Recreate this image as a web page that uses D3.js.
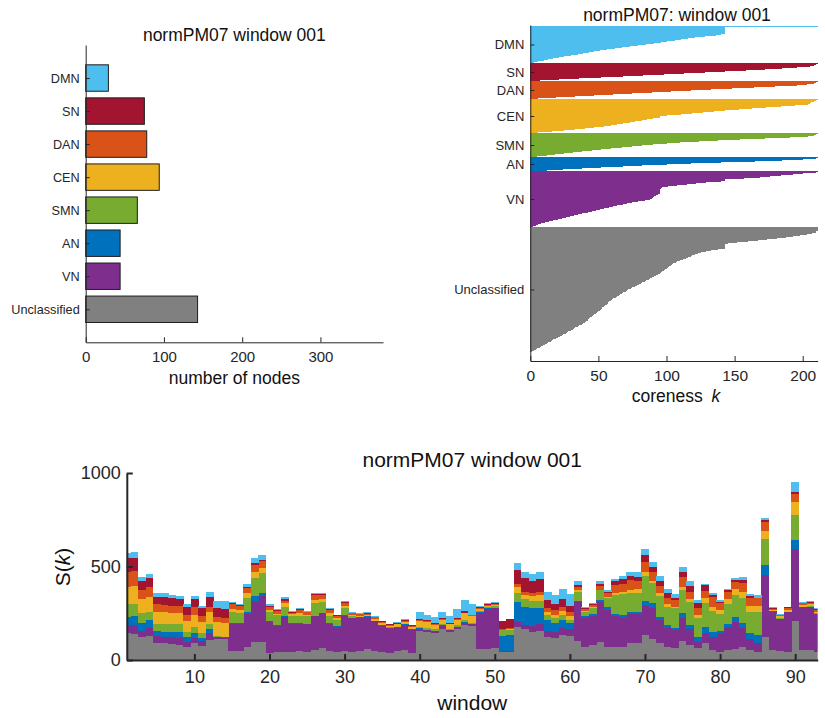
<!DOCTYPE html>
<html>
<head>
<meta charset="utf-8">
<script src="https://cdn.jsdelivr.net/npm/d3@7"></script>
<style>
  html, body { margin: 0; padding: 0; background: #fff; }
  svg { display: block; font-family: "Liberation Sans", Arial, Helvetica, sans-serif; }
</style>
</head>
<body>
<svg id="fig" width="825" height="718"></svg>
<script>
// ---------------- data ----------------
const networks = ["DMN", "SN", "DAN", "CEN", "SMN", "AN", "VN", "Unclassified"];
const colors   = ["#4DBEEE", "#A2142F", "#D95319", "#EDB120", "#77AC30", "#0072BD", "#7E2F8E", "#808080"];

// nodes per network in window 001
const nodeCounts = [29, 75, 78, 94, 66, 44, 44, 143];
const countTicks = [0, 100, 200, 300];

// coreness k of every node, sorted within each network (window 001)
const coreDMN = [211,143,143,143,143,143,143,143,140,136,128,121,116,111,106,100,96,91,85,79,73,67,62,56,51,47,43,39,35,30,25,21,17,13,10,6,3];
const coreSN  = [211,210,208,205,196,185,172,158,143,128,113,98,83,68,52,36,21,7];
const coreDAN = [211,210,208,203,196,180,164,148,133,118,103,89,75,61,47,33,19,6];
const coreCEN = [211,210,208,206,205,204,194,184,173,163,153,143,135,127,119,111,100,95,95,90,86,82,77,73,68,64,59,54,47,40,33,25,16,6];
const coreSMN = [211,210,208,204,191,172,154,138,124,110,100,90,82,75,67,59,52,45,38,31,25,18,12,5];
const coreAN  = [211,210,200,185,165,140,118,100,82,68,52,38,24,12];
const coreVN  = [211,210,200,193,184,176,169,157,143,143,140,129,122,115,108,101,97,96,95,95,95,95,95,94,92,91,90,89,88,84,79,75,71,68,64,61,58,54,51,48,45,42,38,35,32,29,26,23,20,17,14,11,8,6,4,2];
const coreUnclassified = [211,211,211,211,210,210,207,203,198,193,188,181,174,167,160,152,145,143,143,143,143,143,138,133,129,125,
  123,121,119,118,116,114,112,110,108,107,105,104,103,102,101,100,99,98,97,96,95,94,92,91,89,88,87,85,84,82,81,
  80,78,77,75,74,72,71,70,68,67,66,65,64,63,61,60,59,58,57,57,56,55,54,53,53,52,51,
  50,49,48,47,46,45,44,43,42,42,41,40,39,38,36,35,33,32,31,30,28,27,26,24,23,22,20,19,17,16,15,13,12,11,9,8,7,5,4,3,1];
const corenessTicks = [0, 50, 100, 150, 200];

// S(k) per network for each window
const sDMN = [29,30,23,20,18,21,16,14,12,14, 14,25,39,45,4,5,14,27,23,7, 5,9,5,7,4,5,5,5,4,5,
  5,4,5,4,4,2,4,4,4,39, 30,32,32,36,50,59,57,5,5,5, 0,0,39,32,36,41,41,53,52,68,
  23,5,5,18,12,9,18,23,23,32, 27,27,23,18,27,25,14,9,12,9, 5,12,14,12,14,9,5,4,5,50, 5,7,5];
const sSN = [75,74,48,52,41,41,39,37,45,43, 39,53,45,45,4,4,9,9,7,5, 5,9,5,5,4,4,4,4,4,4,
  4,2,2,2,2,2,2,4,2,5, 5,4,7,5,5,9,2,5,4,4, 45,48,77,71,64,66,45,30,41,30,
  9,4,4,7,9,23,23,21,21,36, 27,27,23,12,30,32,30,30,12,5, 9,9,18,14,4,12,5,2,4,12, 4,5,5];
const sDAN = [78,80,50,50,39,39,41,41,32,45, 32,27,30,30,27,23,27,36,37,16, 16,14,9,18,14,27,23,18,11,18,
  11,7,7,12,7,5,5,9,5,4, 4,4,5,4,4,4,4,9,5,5, 5,5,12,18,18,18,18,27,23,21,
  14,12,9,20,18,41,45,53,45,53, 45,39,34,36,50,41,36,37,50,39, 41,41,45,41,41,46,7,5,9,45, 9,9,9];
const sCEN = [94,96,75,80,68,64,59,59,61,59, 59,66,71,71,14,14,23,32,30,12, 9,18,9,12,5,14,14,12,9,9,
  5,5,5,7,9,9,11,9,12,32, 30,20,23,23,27,36,36,7,4,5, 2,4,32,23,27,32,18,18,25,23,
  12,5,5,4,5,12,12,14,23,23, 12,12,14,9,18,16,18,27,23,23, 27,30,32,30,34,43,5,12,9,68, 9,9,9];
const sSMN = [66,62,50,45,36,39,39,43,27,36, 30,27,5,4,62,57,75,96,103,50, 50,50,39,41,43,70,57,41,32,39,
  7,4,2,2,2,2,2,2,2,9, 12,11,4,5,9,9,5,9,9,11, 32,30,52,39,39,36,27,23,23,14,
  50,21,36,53,48,102,112,102,102,134, 107,112,98,107,125,121,98,128,111,89, 105,116,134,116,121,139,2,2,2,134, 2,2,2];
const sAN = [44,50,45,41,25,27,30,29,23,23, 16,23,4,4,4,4,12,29,18,5, 4,4,4,4,2,4,4,4,4,4,
  4,2,4,2,2,2,2,2,2,4, 2,2,5,2,2,5,2,2,2,2, 80,86,103,98,94,89,59,48,45,34,
  7,14,7,12,18,9,9,12,11,25, 27,18,18,9,27,23,27,32,30,12, 14,27,30,32,41,53,2,2,2,50, 2,2,2];
const sVN = [44,46,30,43,37,36,36,39,30,27, 25,36,9,7,143,143,178,221,248,164, 139,187,148,144,150,180,187,144,137,189,
  178,178,173,157,139,132,127,135,123,11, 11,12,18,12,11,12,11,194,217,216, 2,2,30,23,30,36,30,32,36,37,
  205,152,157,214,196,166,160,157,151,157, 166,121,98,98,119,84,32,57,68,98, 125,146,98,57,48,330,205,171,210,381, 228,231,200];
const sUnclassified = [143,140,125,130,93,89,86,80,68,93, 75,107,112,110,50,50,68,94,94,39, 45,45,45,48,41,53,62,48,41,48,
  45,48,57,50,45,39,48,53,39,155, 148,143,164,148,164,187,182,59,57,62, 45,45,175,164,152,155,125,119,134,128,
  103,71,80,94,71,71,71,89,93,134, 111,93,71,62,103,80,66,89,53,45, 53,59,71,53,45,125,53,48,45,210, 53,53,45];
const windowTicks = [10, 20, 30, 40, 50, 60, 70, 80, 90];
const sTicks = [0, 500, 1000];

// ---------------- drawing ----------------
const svg = d3.select("#fig");
const ink = "#262626";

function styleAxis(g, fontSize, lineWidth) {
  g.selectAll("path.domain").attr("stroke", ink).attr("stroke-width", lineWidth);
  g.selectAll(".tick line").attr("stroke", ink).attr("stroke-width", lineWidth);
  g.selectAll(".tick text").attr("fill", ink).style("font-size", fontSize + "px")
    .style("font-family", '"Liberation Sans", Arial, Helvetica, sans-serif');
}

// ---- panel 1: number of nodes per network ----
const p1 = { left: 85.7, right: 383, top: 45, bottom: 342.3 };
const x1 = d3.scaleLinear().domain([0, 380]).range([p1.left, p1.right]);
const y1 = d3.scaleLinear().domain([0, networks.length + 1]).range([p1.top, p1.bottom]);
const g1 = svg.append("g");

g1.selectAll("rect").data(networks).join("rect")
  .attr("x", x1(0))
  .attr("y", (d, i) => y1(i + 1 - 0.4))
  .attr("width", (d, i) => x1(nodeCounts[i]) - x1(0))
  .attr("height", y1(0.8) - y1(0))
  .attr("fill", (d, i) => colors[i])
  .attr("stroke", "#1e1e1e").attr("stroke-width", 1);

g1.append("g").attr("transform", `translate(0,${p1.bottom})`)
  .call(d3.axisBottom(x1).tickValues(countTicks).tickSize(-5).tickSizeOuter(0).tickPadding(9))
  .call(g => styleAxis(g, 15, 1));
g1.append("g").attr("transform", `translate(${p1.left},0)`)
  .call(d3.axisLeft(y1).tickValues(networks.map((d, i) => i + 1)).tickFormat(v => networks[v - 1])
        .tickSize(-4).tickSizeOuter(0).tickPadding(6))
  .call(g => styleAxis(g, 12.7, 1));

g1.append("text").attr("x", (p1.left + p1.right) / 2).attr("y", 41).attr("text-anchor", "middle")
  .attr("fill", "#111").style("font-size", "17.5px").text("normPM07 window 001");
g1.append("text").attr("x", (p1.left + p1.right) / 2).attr("y", 384).attr("text-anchor", "middle")
  .attr("fill", "#111").style("font-size", "17.5px").text("number of nodes");

// ---- panel 2: coreness of every node ----
const p2 = { left: 530.3, right: 817.7, top: 25, bottom: 361 };
const groups = [coreDMN, coreSN, coreDAN, coreCEN, coreSMN, coreAN, coreVN, coreUnclassified];
const x2 = d3.scaleLinear().domain([0, 211]).range([p2.left, p2.right]);
const y2 = d3.scaleLinear().domain([0, 336]).range([p2.top, p2.bottom]);
const g2 = svg.append("g");

let offset = 1;
const groupCenters = [];
groups.forEach((vals, gi) => {
  const start = offset;
  g2.append("g").attr("shape-rendering", "crispEdges")
    .selectAll("rect").data(vals).join("rect")
    .attr("x", x2(0))
    .attr("y", (d, j) => y2(start + j))
    .attr("width", d => x2(d) - x2(0))
    .attr("height", y2(1) - y2(0))
    .attr("fill", colors[gi]);
  groupCenters.push(start + vals.length / 2);
  offset += vals.length;
});

g2.append("g").attr("transform", `translate(0,${p2.bottom})`)
  .call(d3.axisBottom(x2).tickValues(corenessTicks).tickSize(-5).tickSizeOuter(0).tickPadding(9))
  .call(g => styleAxis(g, 15.5, 1));
g2.append("g").attr("transform", `translate(${p2.left},0)`)
  .call(d3.axisLeft(y2).tickValues(groupCenters).tickFormat((v, i) => networks[i])
        .tickSize(-4).tickSizeOuter(0).tickPadding(6))
  .call(g => styleAxis(g, 13, 1));

g2.append("text").attr("x", 677).attr("y", 21).attr("text-anchor", "middle")
  .attr("fill", "#111").style("font-size", "17.5px").text("normPM07: window 001");
const xl2 = g2.append("text").attr("x", 676).attr("y", 402).attr("text-anchor", "middle")
  .attr("fill", "#111").style("font-size", "17.5px");
xl2.append("tspan").text("coreness\u2002");
xl2.append("tspan").style("font-style", "italic").text("k");

// ---- panel 3: stacked S(k) across windows ----
const p3 = { left: 126.8, right: 817.7, top: 473, bottom: 660 };
const windows = sDMN.map((d, i) => i + 1);
const series = { DMN: sDMN, SN: sSN, DAN: sDAN, CEN: sCEN, SMN: sSMN, AN: sAN, VN: sVN, Unclassified: sUnclassified };
const table = windows.map((w, i) => {
  const row = { window: w };
  networks.forEach(n => { row[n] = series[n][i]; });
  return row;
});
const stackKeys = networks.slice().reverse();   // Unclassified at the bottom, DMN on top
const stacked = d3.stack().keys(stackKeys)(table);

const x3 = d3.scaleLinear().domain([1, 93]).range([p3.left, p3.right]);
const y3 = d3.scaleLinear().domain([0, 1000]).range([p3.bottom, p3.top]);
const g3 = svg.append("g");

svg.append("defs").append("clipPath").attr("id", "plot3")
  .append("rect").attr("x", p3.left).attr("y", p3.top - 20)
  .attr("width", p3.right - p3.left).attr("height", p3.bottom - p3.top + 20);

g3.append("g").attr("clip-path", "url(#plot3)").attr("shape-rendering", "crispEdges")
  .selectAll("g").data(stacked).join("g")
  .attr("fill", s => colors[networks.indexOf(s.key)])
  .selectAll("rect").data(s => s).join("rect")
  .attr("x", d => x3(d.data.window - 0.5))
  .attr("width", d => x3(d.data.window + 0.5) - x3(d.data.window - 0.5) + 0.4)
  .attr("y", d => y3(d[1]))
  .attr("height", d => y3(d[0]) - y3(d[1]));

g3.append("g").attr("transform", `translate(0,${p3.bottom})`)
  .call(d3.axisBottom(x3).tickValues(windowTicks).tickSize(-6).tickSizeOuter(0).tickPadding(10))
  .call(g => styleAxis(g, 18, 2));
g3.append("g").attr("transform", `translate(${p3.left},0)`)
  .call(d3.axisLeft(y3).tickValues(sTicks).tickFormat(d3.format("d")).tickSize(-6).tickSizeOuter(0).tickPadding(6))
  .call(g => styleAxis(g, 18, 2));

g3.append("text").attr("x", (p3.left + p3.right) / 2).attr("y", 467).attr("text-anchor", "middle")
  .attr("fill", "#111").style("font-size", "21px").text("normPM07 window 001");
g3.append("text").attr("x", (p3.left + p3.right) / 2).attr("y", 710).attr("text-anchor", "middle")
  .attr("fill", "#111").style("font-size", "21px").text("window");
const yl3 = g3.append("text").attr("transform", "translate(70,567) rotate(-90)").attr("text-anchor", "middle")
  .attr("fill", "#111").style("font-size", "21px");
yl3.append("tspan").text("S(");
yl3.append("tspan").style("font-style", "italic").text("k");
yl3.append("tspan").text(")");
</script>
</body>
</html>
